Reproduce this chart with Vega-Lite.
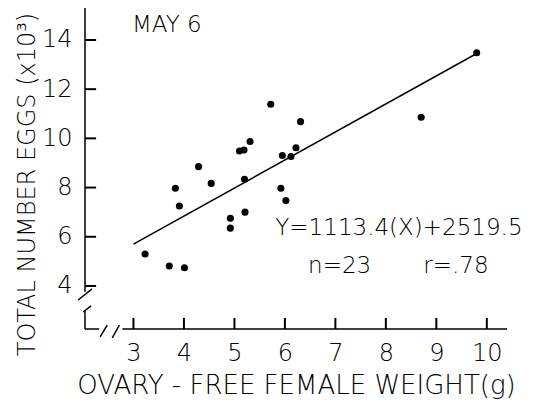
{
  "$schema": "https://vega.github.io/schema/vega-lite/v6.json",
  "autosize": {"type": "none"},
  "padding": {"left": 85, "top": 8, "right": 28, "bottom": 77},
  "width": 422,
  "height": 321,
  "background": "white",
  "config": {
    "view": {"stroke": null},
    "font": "DejaVu Sans",
    "text": {"font": "DejaVu Sans", "fontWeight": 200}
  },
  "datasets": {
    "points": [
      {"weight": 3.23, "eggs": 5.30},
      {"weight": 3.71, "eggs": 4.81},
      {"weight": 4.01, "eggs": 4.74},
      {"weight": 3.83, "eggs": 7.97},
      {"weight": 3.91, "eggs": 7.25},
      {"weight": 4.29, "eggs": 8.85},
      {"weight": 4.54, "eggs": 8.17},
      {"weight": 4.92, "eggs": 6.75},
      {"weight": 4.92, "eggs": 6.35},
      {"weight": 5.21, "eggs": 7.00},
      {"weight": 5.20, "eggs": 8.34},
      {"weight": 5.10, "eggs": 9.49},
      {"weight": 5.19, "eggs": 9.53},
      {"weight": 5.31, "eggs": 9.87},
      {"weight": 5.72, "eggs": 11.39},
      {"weight": 5.92, "eggs": 7.97},
      {"weight": 6.02, "eggs": 7.47},
      {"weight": 5.95, "eggs": 9.30},
      {"weight": 6.12, "eggs": 9.26},
      {"weight": 6.22, "eggs": 9.62},
      {"weight": 6.31, "eggs": 10.68},
      {"weight": 8.70, "eggs": 10.86},
      {"weight": 9.80, "eggs": 13.48}
    ],
    "fit": [
      {"weight": 3.0, "eggs": 5.70},
      {"weight": 9.8, "eggs": 13.45}
    ],
    "axislines": [
      {"x1": 2.04, "y1": 15.30, "x2": 2.04, "y2": 3.76},
      {"x1": 1.905, "y1": 3.43, "x2": 2.18, "y2": 3.88},
      {"x1": 2.004, "y1": 2.94, "x2": 2.16, "y2": 3.19},
      {"x1": 2.04, "y1": 3.02, "x2": 2.04, "y2": 2.25},
      {"x1": 2.04, "y1": 2.25, "x2": 2.32, "y2": 2.25},
      {"x1": 2.34, "y1": 1.93, "x2": 2.48, "y2": 2.41},
      {"x1": 2.58, "y1": 1.89, "x2": 2.72, "y2": 2.41},
      {"x1": 2.78, "y1": 2.25, "x2": 10.40, "y2": 2.25}
    ],
    "yticks": [
      {"v": 4}, {"v": 6}, {"v": 8}, {"v": 10}, {"v": 12}, {"v": 14}
    ],
    "xticks": [
      {"v": 3}, {"v": 4}, {"v": 5}, {"v": 6}, {"v": 7}, {"v": 8}, {"v": 9}, {"v": 10}
    ],
    "labels": [
      {"x": 2.97, "y": 14.33, "label": "MAY 6"},
      {"x": 5.81, "y": 6.07, "label": "Y=1113.4(X)+2519.5"},
      {"x": 6.46, "y": 4.54, "label": "n=23"},
      {"x": 8.74, "y": 4.54, "label": "r=.78"}
    ]
  },
  "layer": [
    {
      "data": {"name": "axislines"},
      "mark": {"type": "rule", "color": "black", "strokeWidth": 1.5},
      "encoding": {
        "x": {"field": "x1", "type": "quantitative", "scale": {"domain": [2.04, 10.4], "nice": false, "zero": false},
          "axis": {
            "domain": false, "values": [3, 4, 5, 6, 7, 8, 9, 10], "ticks": false,
            "labelPadding": 12, "labelFontSize": 24, "labelFont": "DejaVu Sans", "labelFontWeight": 200, "labelColor": "black",
            "grid": false,
            "title": "OVARY - FREE FEMALE WEIGHT(g)", "titleFont": "DejaVu Sans", "titleFontWeight": 200, "titleFontSize": 26,
            "titleColor": "black", "titleY": 64, "titleBaseline": "alphabetic"
          }},
        "y": {"field": "y1", "type": "quantitative", "scale": {"domain": [2.25, 15.3], "nice": false, "zero": false},
          "axis": {
            "domain": false, "values": [4, 6, 8, 10, 12, 14], "ticks": false,
            "labelPadding": 13, "labelFontSize": 24, "labelFont": "DejaVu Sans", "labelFontWeight": 200, "labelColor": "black",
            "grid": false,
            "title": "TOTAL NUMBER EGGS (x10³)", "titleFont": "DejaVu Sans", "titleFontWeight": 200, "titleFontSize": 24,
            "titleColor": "black", "titleX": -58, "titleY": 176, "titleAngle": -90, "titleBaseline": "middle", "titleAlign": "center"
          }},
        "x2": {"field": "x2"},
        "y2": {"field": "y2"}
      }
    },
    {
      "data": {"name": "yticks"},
      "mark": {"type": "rule", "color": "black", "strokeWidth": 2},
      "encoding": {
        "y": {"field": "v", "type": "quantitative"},
        "x": {"datum": 2.04, "type": "quantitative"},
        "x2": {"datum": 2.26}
      }
    },
    {
      "data": {"name": "xticks"},
      "mark": {"type": "rule", "color": "black", "strokeWidth": 2},
      "encoding": {
        "x": {"field": "v", "type": "quantitative"},
        "y": {"datum": 2.25, "type": "quantitative"},
        "y2": {"datum": 2.7}
      }
    },
    {
      "data": {"name": "fit"},
      "mark": {"type": "line", "color": "black", "strokeWidth": 1.5},
      "encoding": {
        "x": {"field": "weight", "type": "quantitative"},
        "y": {"field": "eggs", "type": "quantitative"}
      }
    },
    {
      "data": {"name": "points"},
      "mark": {"type": "circle", "color": "black", "opacity": 1, "size": 50},
      "encoding": {
        "x": {"field": "weight", "type": "quantitative"},
        "y": {"field": "eggs", "type": "quantitative"}
      }
    },
    {
      "data": {"name": "labels"},
      "mark": {"type": "text", "align": "left", "baseline": "alphabetic", "fontSize": 23, "color": "black"},
      "encoding": {
        "x": {"field": "x", "type": "quantitative"},
        "y": {"field": "y", "type": "quantitative"},
        "text": {"field": "label"}
      }
    }
  ]
}
